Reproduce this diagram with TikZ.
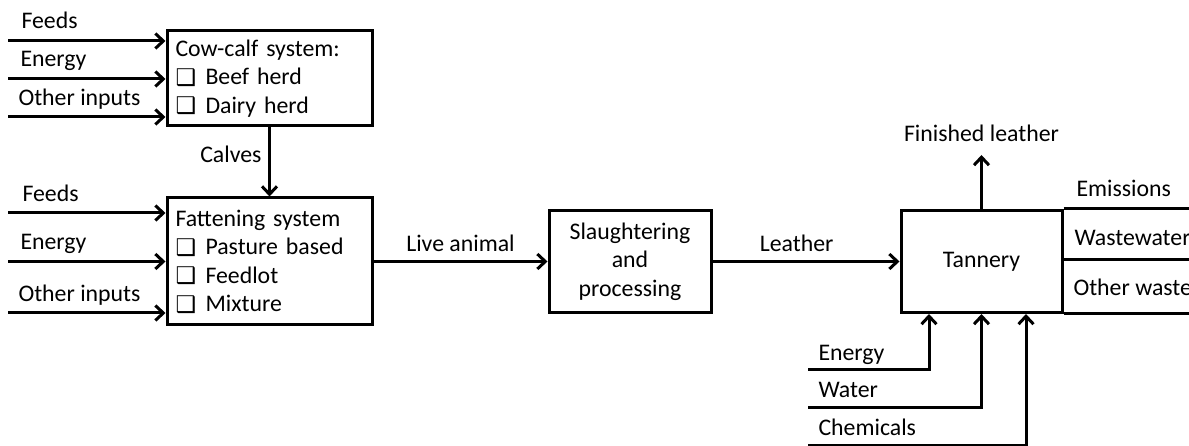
\documentclass[tikz,border=0pt]{standalone}
\usepackage{fontspec}
\setmainfont{Carlito}
\newfontfamily\dejavu{DejaVu Sans}
\usetikzlibrary{arrows.meta,calc}
\newcommand{\cbx}{\makebox[30pt][l]{\raisebox{-0.5pt}{\dejavu\bfseries\fontsize{23}{23}\selectfont ❑}}}
\begin{document}
\begin{tikzpicture}[x=1pt,y=-1pt, line width=3pt,
  font=\fontsize{23.8}{28.5}\selectfont,
  box/.style={draw, line width=3pt, inner sep=0pt},
  arr/.style={-{Straight Barb[length=8pt,width=15pt]}},
  lbl/.style={anchor=base west, inner sep=0pt},
  clbl/.style={anchor=base, inner sep=0pt}]
\useasboundingbox (0,0) rectangle (1189,446);
\clip (0,0) rectangle (1189,446);

% boxes
\node[box, minimum width=205pt, minimum height=95pt, text width=188pt, align=left] (cow) at (269.5,78.5)
  {Cow-calf system:\\ \cbx Beef herd\\ \cbx Dairy herd};
\node[box, minimum width=205pt, minimum height=127pt, text width=188pt, align=left] (fat) at (269.5,261.5)
  {Fattening system\\ \cbx Pasture based\\ \cbx Feedlot\\ \cbx Mixture};
\node[box, minimum width=162pt, minimum height=102pt, align=center] (sl) at (630,261.5)
  {Slaughtering\\ and\\ processing};
\node[box, minimum width=161pt, minimum height=102pt, align=center] (tan) at (981.5,261.5)
  {Tannery};

% inputs to cow-calf
\coordinate (ci1) at (8,41);
\coordinate (ci2) at (8,79);
\coordinate (ci3) at (8,117);
\draw[arr] (ci1) -- (ci1 -| cow.west);
\draw[arr] (ci2) -- (ci2 -| cow.west);
\draw[arr] (ci3) -- (ci3 -| cow.west);
\node[lbl] (lc1) at (20,29) {Feeds};
\node[lbl] (lc2) at (19,67) {Energy};
\node[lbl] (lc3) at (17,106) {Other inputs};

% calves
\draw[arr] (cow.south) -- (fat.north);
\node[anchor=base east, inner sep=0pt] (lcal) at (263,163) {Calves};

% inputs to fattening
\coordinate (fi1) at (8,213);
\coordinate (fi2) at (8,261.5);
\coordinate (fi3) at (8,313);
\draw[arr] (fi1) -- (fi1 -| fat.west);
\draw[arr] (fi2) -- (fat.west);
\draw[arr] (fi3) -- (fi3 -| fat.west);
\node[lbl] (lf1) at (21,202) {Feeds};
\node[lbl] (lf2) at (19,250) {Energy};
\node[lbl] (lf3) at (17,302) {Other inputs};

% main flow
\draw[arr] (fat.east) -- (sl.west) node[clbl, midway, yshift=10pt] {Live animal};
\draw[arr] (sl.east) -- (tan.west) node[clbl, pos=0.45, yshift=10pt] {Leather};

% finished leather
\coordinate (fl) at (981.5,155);
\draw[arr] (tan.north) -- (fl);
\node[clbl] (lfl) at (981.5,142) {Finished leather};

% outputs
\coordinate (ox) at (1200,0);
\draw (tan.north east) -- (tan.north east -| ox);
\draw (tan.east) ++(0,-2) coordinate (oe) -- (oe -| ox);
\draw (tan.south east) -- (tan.south east -| ox);
\node[lbl] (lo1) at (1075,197) {Emissions};
\node[lbl] (lo2) at (1073,246) {Wastewater};
\node[lbl] (lo3) at (1072,296) {Other waste};

% bottom inputs
\coordinate (bi1) at (808,369);
\coordinate (bi2) at (808,407);
\coordinate (bi3) at (808,445);
\coordinate (bx1) at (929,0);
\coordinate (bx3) at (1026,0);
\draw[arr] (bi1) -| (bx1 |- tan.south);
\draw[arr] (bi2) -| (tan.south);
\draw[arr] (bi3) -| (bx3 |- tan.south);
\node[lbl] (lb1) at (817,360) {Energy};
\node[lbl] (lb2) at (817,397) {Water};
\node[lbl] (lb3) at (817,435) {Chemicals};
\end{tikzpicture}
\end{document}
